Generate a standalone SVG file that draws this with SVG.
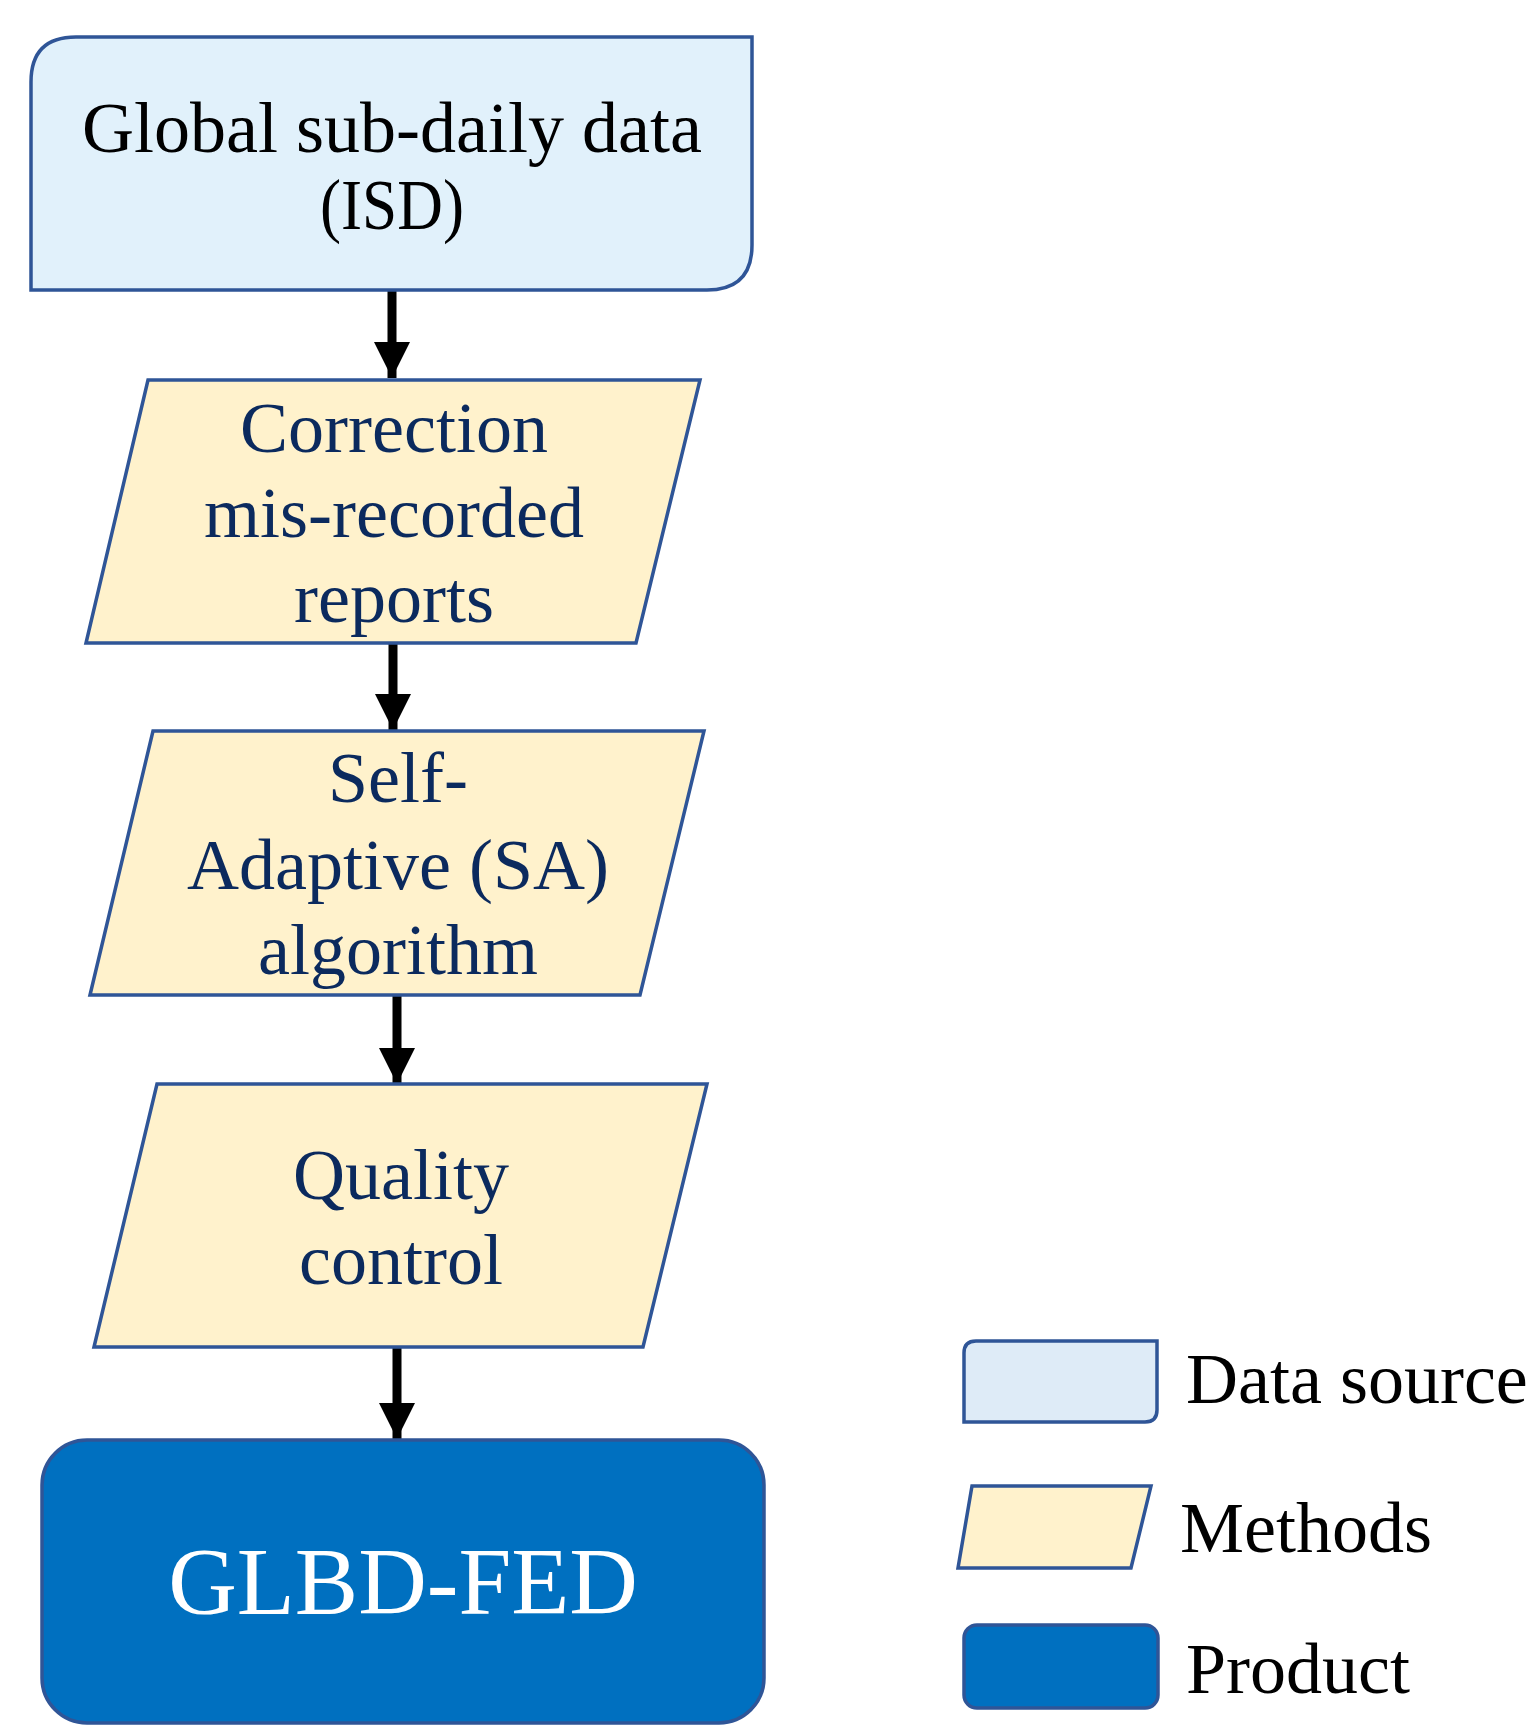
<svg xmlns="http://www.w3.org/2000/svg" width="1534" height="1735" viewBox="0 0 1534 1735">
<style>
.t{font-family:"Liberation Serif","Times New Roman",serif;font-size:72px;text-anchor:middle}
.blk{fill:#000}
.nav{fill:#0B2A5E}
.src{fill:#E1F1FB;stroke:#2F5597;stroke-width:3.5}
.srcl{fill:#DEEBF7;stroke:#2F5597;stroke-width:3.5}
.mth{fill:#FFF2CC;stroke:#2F5597;stroke-width:3.5}
.prd{fill:#0070C0;stroke:#2F5597;stroke-width:3.5}
.lg{font-family:"Liberation Serif","Times New Roman",serif;font-size:72px;fill:#000}
.arr{stroke:#000;stroke-width:9;fill:none}
</style>
<defs>
<marker id="ah" markerUnits="userSpaceOnUse" markerWidth="36" markerHeight="36" viewBox="0 0 36 36" refX="36" refY="18" orient="auto">
<path d="M0,0 L36,18 L0,36 Z" fill="#000"/>
</marker>
</defs>
<rect width="1534" height="1735" fill="#fff"/>
<g id="connectors">
<line class="arr" x1="392" y1="291" x2="392" y2="378" marker-end="url(#ah)"/>
<line class="arr" x1="393" y1="644" x2="393" y2="730" marker-end="url(#ah)"/>
<line class="arr" x1="397" y1="996" x2="397" y2="1084" marker-end="url(#ah)"/>
<line class="arr" x1="397" y1="1348" x2="397" y2="1439" marker-end="url(#ah)"/>
</g>
<g id="node-isd">
<path class="src" d="M76,37 L752,37 L752,245 Q752,290 707,290 L31,290 L31,82 Q31,37 76,37 Z"/>
<text class="t blk" x="392" y="152">Global sub-daily data</text>
<text class="t blk" x="392" y="229" textLength="144" lengthAdjust="spacingAndGlyphs">(ISD)</text>
</g>
<g id="node-correction">
<path class="mth" d="M148,380 L700,380 L636,643 L86,643 Z"/>
<text class="t nav" x="394" y="452">Correction</text>
<text class="t nav" x="394" y="537">mis-recorded</text>
<text class="t nav" x="394" y="622">reports</text>
</g>
<g id="node-sa">
<path class="mth" d="M153,731 L704,731 L640,995 L90,995 Z"/>
<text class="t nav" x="398" y="802">Self-</text>
<text class="t nav" x="398" y="889">Adaptive (SA)</text>
<text class="t nav" x="398" y="974">algorithm</text>
</g>
<g id="node-qc">
<path class="mth" d="M157,1084 L707,1084 L643,1347 L94,1347 Z"/>
<text class="t nav" x="401" y="1199">Quality</text>
<text class="t nav" x="401" y="1284">control</text>
</g>
<g id="node-product">
<rect class="prd" x="42" y="1440" width="722" height="283" rx="45" ry="45"/>
<text class="t" x="403" y="1614" style="font-size:95px;fill:#fff">GLBD-FED</text>
</g>
<g id="legend">
<path class="srcl" d="M976,1341 L1157,1341 L1157,1410 Q1157,1422 1145,1422 L964,1422 L964,1353 Q964,1341 976,1341 Z"/>
<text class="lg" x="1186" y="1403">Data source</text>
<path class="mth" d="M972,1486 L1151,1486 L1131,1568 L958,1568 Z"/>
<text class="lg" x="1180" y="1552">Methods</text>
<rect class="prd" x="964" y="1625" width="194" height="83" rx="13" ry="13"/>
<text class="lg" x="1186" y="1693">Product</text>
</g>
</svg>
